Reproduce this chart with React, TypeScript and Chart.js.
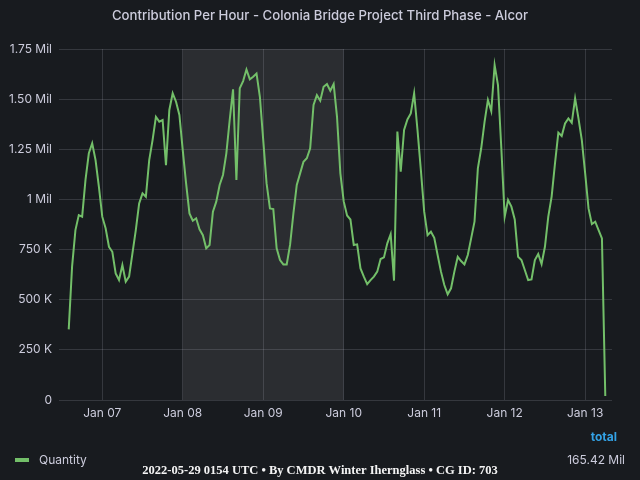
import { useEffect, useRef } from "react"
import { Chart, registerables } from "chart.js"
import type { Plugin } from "chart.js"

// Register Chart.js components
Chart.register(...registerables)

const chartTitle = "Contribution Per Hour - Colonia Bridge Project Third Phase - Alcor"
const seriesName = "Quantity"
const totalLabel = "total"
const totalValue = "165.42 Mil"
const footerText = "2022-05-29 0154 UTC • By CMDR Winter Ihernglass • CG ID: 703"

// hourly contribution in thousands, hour 0 = Jan 07 00:00
const jan06 = [352, 665, 847, 922, 914, 1097, 1230, 1280, 1196, 1063] // 14:00 - 23:00
const jan07 = [914, 856, 764, 739, 631, 598, 673, 590, 615, 731, 847, 980, 1030, 1013, 1196, 1296, 1412, 1388, 1396, 1171, 1446, 1529, 1487, 1421]
const jan08 = [1246, 1080, 930, 894, 906, 851, 822, 756, 773, 939, 989, 1072, 1122, 1230, 1396, 1549, 1097, 1554, 1590, 1648, 1599, 1612, 1628, 1512]
const jan09 = [1296, 1080, 955, 952, 756, 698, 676, 676, 773, 930, 1072, 1130, 1188, 1205, 1255, 1471, 1520, 1492, 1562, 1575, 1542, 1575, 1412, 1130]
const jan10 = [990, 920, 900, 773, 776, 656, 615, 578, 598, 615, 640, 703, 711, 781, 827, 595, 1338, 1138, 1346, 1399, 1429, 1529, 1346, 1147]
const jan11 = [939, 822, 839, 809, 723, 640, 573, 527, 557, 640, 714, 693, 676, 723, 806, 889, 1155, 1255, 1387, 1496, 1441, 1670, 1570, 1255]
const jan12 = [914, 997, 964, 900, 714, 698, 648, 598, 601, 698, 728, 678, 764, 914, 1014, 1180, 1333, 1316, 1379, 1404, 1382, 1504, 1404, 1296]
const jan13 = [1130, 955, 877, 889, 847, 806, 20] // 00:00 - 06:00
const firstHour = -10

const tickHours = [0, 24, 48, 72, 96, 120, 144]
const tickLabels = ["Jan 07", "Jan 08", "Jan 09", "Jan 10", "Jan 11", "Jan 12", "Jan 13"]

// shaded time region, Jan 08 - Jan 10
const regionFrom = 24
const regionTo = 72

const textColor = "#ccccdc"
const gridColor = "rgba(204, 204, 220, 0.17)"
const lineColor = "#73bf69"

const regionPlugin: Plugin<"line"> = {
  id: "timeRegion",
  beforeDraw(chart) {
    const { ctx, chartArea, scales } = chart
    const x0 = scales.x.getPixelForValue(regionFrom)
    const x1 = scales.x.getPixelForValue(regionTo)
    ctx.save()
    ctx.fillStyle = "#2b2d31"
    ctx.fillRect(x0, chartArea.top, x1 - x0, chartArea.bottom - chartArea.top)
    ctx.restore()
  },
}

const panelTextPlugin: Plugin<"line"> = {
  id: "panelText",
  afterDraw(chart) {
    const { ctx } = chart
    ctx.save()
    ctx.textBaseline = "middle"

    ctx.fillStyle = textColor
    ctx.font = "500 13.2px Inter"
    ctx.textAlign = "center"
    ctx.fillText(chartTitle, 320, 16)

    // legend
    ctx.fillStyle = lineColor
    ctx.fillRect(15, 458, 14, 4)
    ctx.fillStyle = textColor
    ctx.font = "12px Inter"
    ctx.textAlign = "left"
    ctx.fillText(seriesName, 39, 460)
    ctx.textAlign = "right"
    ctx.fillText(totalValue, 625, 460)
    ctx.fillStyle = "#33a2e5"
    ctx.font = "bold 12px Inter"
    ctx.fillText(totalLabel, 617, 437)

    ctx.fillStyle = "#f4f4f4"
    ctx.font = "bold 12.5px 'Liberation Serif'"
    ctx.textAlign = "center"
    ctx.fillText(footerText, 320, 471)
    ctx.restore()
  },
}

function formatQuantity(v: number) {
  if (v === 0) return "0"
  if (v < 1000000) return `${v / 1000} K`
  if (v === 1000000) return "1 Mil"
  return `${(v / 1000000).toFixed(2)} Mil`
}

function ContributionChart() {
  const chartRef = useRef<HTMLCanvasElement>(null)
  const chartInstance = useRef<Chart | null>(null)

  useEffect(() => {
    if (!chartRef.current) return
    if (chartInstance.current) chartInstance.current.destroy()

    const ctx = chartRef.current.getContext("2d")
    if (!ctx) return

    const hourly = [jan06, jan07, jan08, jan09, jan10, jan11, jan12, jan13].flat()
    const points = hourly.map((v, i) => ({ x: firstHour + i, y: v * 1000 }))

    chartInstance.current = new Chart(ctx, {
      type: "line",
      data: {
        datasets: [
          {
            label: seriesName,
            data: points,
            borderColor: lineColor,
            borderWidth: 2,
            pointRadius: 0,
            tension: 0,
          },
        ],
      },
      options: {
        animation: false,
        responsive: true,
        maintainAspectRatio: false,
        layout: { padding: { top: 49, left: 0, right: 28, bottom: 50 } },
        plugins: {
          legend: { display: false },
          tooltip: { enabled: false },
        },
        scales: {
          x: {
            type: "linear",
            min: -12.9,
            max: 152,
            afterBuildTicks: (scale) => {
              scale.ticks = tickHours.map((value) => ({ value }))
            },
            afterFit: (scale) => {
              scale.height = 30
            },
            grid: { color: gridColor, drawTicks: false },
            border: { display: false },
            ticks: {
              autoSkip: false,
              maxRotation: 0,
              padding: 6,
              color: textColor,
              font: { family: "Inter", size: 12 },
              callback: (_v, i) => tickLabels[i],
            },
          },
          y: {
            min: 0,
            max: 1750000,
            afterFit: (scale) => {
              scale.width = 59
            },
            grid: { color: gridColor, drawTicks: false },
            border: { display: false },
            ticks: {
              stepSize: 250000,
              padding: 7,
              color: textColor,
              font: { family: "Inter", size: 12 },
              callback: (v) => formatQuantity(Number(v)),
            },
          },
        },
      },
      plugins: [regionPlugin, panelTextPlugin],
    })

    return () => {
      if (chartInstance.current) {
        chartInstance.current.destroy()
        chartInstance.current = null
      }
    }
  }, [])

  return (
    <div style={{ position: "relative", width: 640, height: 480 }}>
      <canvas ref={chartRef} />
    </div>
  )
}

export default function App() {
  return (
    <div style={{ position: "fixed", left: 0, top: 0, width: 640, height: 480, background: "#181b1f" }}>
      <ContributionChart />
    </div>
  )
}
